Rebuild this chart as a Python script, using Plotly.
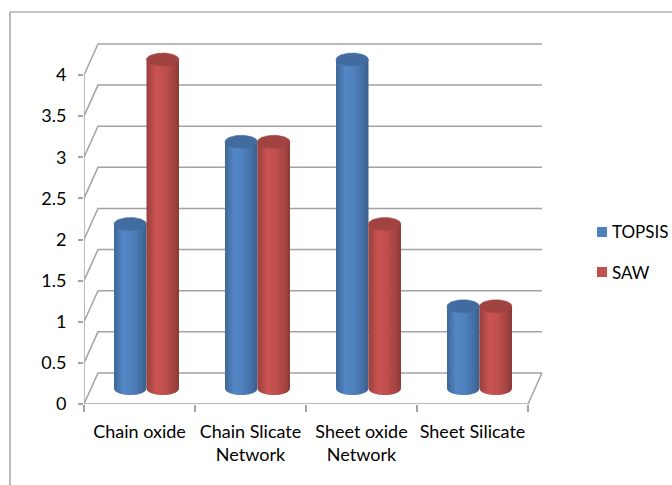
import numpy as np
import plotly.graph_objects as go

# ---- data -------------------------------------------------------------
categories = ["Chain oxide", "Chain Slicate<br>Network", "Sheet oxide<br>Network", "Sheet Silicate"]
series_names = ["TOPSIS", "SAW"]
topsis_values = [2, 3, 4, 1]
saw_values = [4, 3, 2, 1]
y_tick_values = [0, 0.5, 1, 1.5, 2, 2.5, 3, 3.5, 4]
y_tick_labels = ["0", "0.5", "1", "1.5", "2", "2.5", "3", "3.5", "4"]

# ---- style / geometry (axis units) ------------------------------------
BASE_COLORS = [(79, 129, 189), (192, 80, 77)]
GRID = "#a3a3a3"
FONT = "Lato"
DEPTH_X, DEPTH_Y = 0.126, 0.377          # oblique offset of the back wall
MID_X, MID_Y = DEPTH_X / 2, DEPTH_Y / 2   # plane the cylinders stand in
RX, RY = 0.1464, 0.079                    # cylinder ellipse radii
N_STRIPS = 24
N_CAT = len(categories)


def shade(rgb, f):
    r, g, b = (int(max(0, min(255, round(c * f)))) for c in rgb)
    return f"rgb({r},{g},{b})"


def light_profile(t):
    return np.interp(t, [0.0, 0.3, 0.55, 0.85, 1.0], [0.80, 1.05, 1.0, 0.85, 0.72])


fig = go.Figure()

# ---- walls, floor and axis lines --------------------------------------
gx, gy = [], []
for v in y_tick_values:
    # side-wall diagonal + back-wall gridline
    gx += [0, DEPTH_X, N_CAT + DEPTH_X, None]
    gy += [v, v + DEPTH_Y, v + DEPTH_Y, None]
# floor front edge and right edge
gx += [0, N_CAT, N_CAT + DEPTH_X, None]
gy += [0, 0, DEPTH_Y, None]
# front value axis
gx += [0, 0, None]
gy += [0, y_tick_values[-1], None]
fig.add_trace(go.Scatter(x=gx, y=gy, mode="lines", line=dict(color=GRID, width=1.5),
                         hoverinfo="skip", showlegend=False))

# ---- cylinders ----------------------------------------------------------
for s, values in enumerate([topsis_values, saw_values]):
    base = BASE_COLORS[s]
    centers = [i + 0.5 + MID_X + (2 * s - 1) * RX for i in range(N_CAT)]
    edges = np.linspace(-RX, RX, N_STRIPS + 1)
    step = edges[1] - edges[0]
    for k in range(N_STRIPS):
        t = (k + 0.5) / N_STRIPS
        col = shade(base, light_profile(t))
        # each strip overlaps the next one a little so no seams show
        e0 = edges[k]
        e1 = min(RX, edges[k + 1] + 0.6 * step)
        bx = np.linspace(e0, e1, 4)
        by = MID_Y - RY * np.sqrt(np.clip(1 - (bx / RX) ** 2, 0, None))
        xs, ys = [], []
        for xc, v in zip(centers, values):
            top = v + MID_Y
            xs += [xc + e0, xc + e1] + list(xc + bx[::-1]) + [xc + e0, None]
            ys += [top, top] + list(by[::-1]) + [top, None]
        fig.add_trace(go.Scatter(x=xs, y=ys, mode="lines", fill="toself",
                                 fillcolor=col, line=dict(width=0),
                                 hoverinfo="skip", showlegend=False,
                                 legendgroup=series_names[s]))
    # top caps
    th = np.linspace(0, 2 * np.pi, 73)
    cx, cy = [], []
    for xc, v in zip(centers, values):
        cx += list(xc + RX * np.cos(th)) + [None]
        cy += list(v + MID_Y + RY * np.sin(th)) + [None]
    cap = shade(base, 0.84)
    fig.add_trace(go.Scatter(x=cx, y=cy, mode="lines", fill="toself", fillcolor=cap,
                             line=dict(color=cap, width=0.5), hoverinfo="skip",
                             showlegend=False, legendgroup=series_names[s]))

# ---- layout ---------------------------------------------------------------
W, H = 672, 485
L, R, T, B = 84, 0, 30, 81
pw, ph = W - L - R, H - T - B
x_per_unit = 111.0
y_per_unit = 82.25


def px_to_paper_x(px):
    return (px - L) / pw


def px_to_paper_y(py):
    return (H - B - py) / ph


# legend: colour key squares with their series names
legend_rows_y = [232, 272]
legend_shapes, legend_notes = [], []
for s, name in enumerate(series_names):
    yc = legend_rows_y[s]
    legend_shapes.append(dict(type="rect", xref="paper", yref="paper",
                              x0=px_to_paper_x(597), x1=px_to_paper_x(607),
                              y0=px_to_paper_y(yc + 5), y1=px_to_paper_y(yc - 5),
                              fillcolor=shade(BASE_COLORS[s], 1.0), line=dict(width=0)))
    legend_notes.append(dict(text=name, xref="paper", yref="paper", x=px_to_paper_x(610),
                             y=px_to_paper_y(yc), xanchor="left", yanchor="middle",
                             showarrow=False, font=dict(family=FONT, size=17, color="black")))

fig.update_layout(
    width=W, height=H,
    margin=dict(l=L, r=R, t=T, b=B, pad=0, autoexpand=False),
    paper_bgcolor="white", plot_bgcolor="white",
    font=dict(family=FONT, size=18, color="black"),
    showlegend=False,
    xaxis=dict(range=[0, pw / x_per_unit], showgrid=False, zeroline=False, showline=False,
               tickmode="array", tickvals=[i + 0.5 for i in range(N_CAT)], ticktext=categories,
               ticks="", ticklabelstandoff=15,
               minor=dict(tickmode="array", tickvals=list(range(N_CAT + 1)), ticks="outside",
                          ticklen=7, tickcolor=GRID, tickwidth=1.5, showgrid=False),
               fixedrange=True),
    yaxis=dict(range=[0, ph / y_per_unit], showgrid=False, zeroline=False, showline=False,
               tickmode="array", tickvals=y_tick_values, ticktext=y_tick_labels,
               ticks="outside", ticklen=5, tickcolor=GRID, tickwidth=1.5,
               ticklabelstandoff=8, fixedrange=True),
    annotations=legend_notes,
    shapes=[
        dict(type="line", xref="paper", yref="paper", x0=px_to_paper_x(10), y0=px_to_paper_y(12),
             x1=px_to_paper_x(700), y1=px_to_paper_y(12), line=dict(color="#8c8c8c", width=1.2)),
        dict(type="line", xref="paper", yref="paper", x0=px_to_paper_x(10), y0=px_to_paper_y(12),
             x1=px_to_paper_x(10), y1=px_to_paper_y(500), line=dict(color="#8c8c8c", width=1.2)),
    ] + legend_shapes,
)

fig.write_html("out.html")
